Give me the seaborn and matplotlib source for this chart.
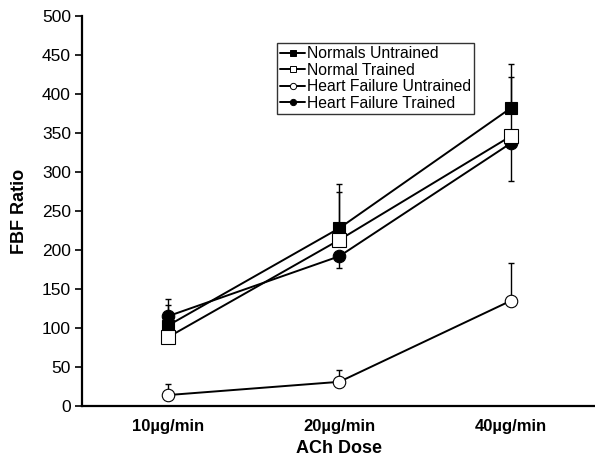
import matplotlib
matplotlib.use("Agg")
import matplotlib.pyplot as plt
import seaborn as sns
import pandas as pd
import numpy as np
from matplotlib.lines import Line2D

sns.set_theme(style="white")
plt.rcParams['font.family'] = ['Liberation Sans', 'DejaVu Sans']
plt.rcParams.update({"text.color": "black", "axes.labelcolor": "black",
                     "xtick.color": "black", "ytick.color": "black"})

doses = ["10\u00b5g/min", "20\u00b5g/min", "40\u00b5g/min"]
series_names = ["Normals Untrained", "Normal Trained", "Heart Failure Untrained", "Heart Failure Trained"]
normals_untrained = [103, 228, 382]
normal_trained = [88, 213, 346]
hf_untrained = [14, 31, 135]
hf_trained = [115, 192, 337]
err_up = {"Normals Untrained": [34, 56, 56], "Normal Trained": [41, 61, 76],
          "Heart Failure Untrained": [14, 15, 48], "Heart Failure Trained": [0, 0, 0]}
err_down = {"Normals Untrained": [0, 0, 0], "Normal Trained": [0, 0, 0],
            "Heart Failure Untrained": [0, 0, 0], "Heart Failure Trained": [10, 15, 49]}
yticks = [0, 50, 100, 150, 200, 250, 300, 350, 400, 450, 500]

values = [normals_untrained, normal_trained, hf_untrained, hf_trained]
rows = []
for name, vals in zip(series_names, values):
    for i, v in enumerate(vals):
        rows.append({"series": name, "pos": i, "value": v})
df = pd.DataFrame(rows)

styles = {
    "Normals Untrained": dict(marker="s", mfc="black", ms=9),
    "Normal Trained": dict(marker="s", mfc="white", ms=10),
    "Heart Failure Untrained": dict(marker="o", mfc="white", ms=9),
    "Heart Failure Trained": dict(marker="o", mfc="black", ms=9),
}

fig = plt.figure(figsize=(5.95, 4.57), dpi=100)
ax = fig.add_axes([82/595, 1-406/457, 1-82/595, (406-16)/457])

for name in ["Normals Untrained", "Heart Failure Untrained", "Heart Failure Trained", "Normal Trained"]:
    sub = df[df.series == name]
    ax.errorbar(sub.pos, sub.value, yerr=[err_down[name], err_up[name]], fmt="none",
                ecolor="black", elinewidth=1.0, capsize=2.5, capthick=1.0, zorder=2)
    st = styles[name]
    sns.lineplot(data=sub, x="pos", y="value", ax=ax, color="black", lw=1.4,
                 marker=st["marker"], markersize=st["ms"], markerfacecolor=st["mfc"],
                 markeredgecolor="black", markeredgewidth=0.8, zorder=3)

ax.set_xlim(-0.5, 2.49)
ax.set_ylim(0, 500)
ax.set_yticks(yticks)
ax.set_yticklabels([str(t) for t in yticks], fontsize=12.5, color="black")
ax.set_xticks([0, 1, 2])
ax.set_xticklabels(doses, fontsize=12, fontweight="bold", color="black")
ax.set_xticks([-0.5, 0.5, 1.5], minor=True)
ax.tick_params(axis="x", which="major", length=0, pad=9)
ax.tick_params(axis="x", which="minor", length=4, width=1.2, direction="out", color="black")
ax.tick_params(axis="y", length=5, width=1.2, direction="out", color="black", left=True, pad=3)
for s in ["top", "right"]:
    ax.spines[s].set_visible(False)
for s in ["left", "bottom"]:
    ax.spines[s].set_color("black")
    ax.spines[s].set_linewidth(1.6)
ax.set_xlabel("ACh Dose", fontsize=13, fontweight="bold", labelpad=5, color="black")
ax.set_ylabel("FBF Ratio", fontsize=13, fontweight="bold", labelpad=10, color="black")
ax.grid(False)

handles = []
for name in series_names:
    st = styles[name]
    handles.append(Line2D([], [], color="black", lw=1.4, marker=st["marker"], markersize=4.5,
                          markerfacecolor=st["mfc"] if st["mfc"] == "black" else "white",
                          markeredgecolor="black", markeredgewidth=0.7))
leg = ax.legend(handles, series_names, loc="upper left", bbox_to_anchor=((277-82)/513, 1-(43-16)/390),
                fontsize=11.3, frameon=True, fancybox=False, edgecolor="black", handlelength=1.6,
                handletextpad=0.1, borderpad=0.2, labelspacing=0.1, borderaxespad=0)
leg.get_frame().set_linewidth(1.0)
for t in leg.get_texts():
    t.set_color("black")

fig.savefig("out.png", dpi=100)
